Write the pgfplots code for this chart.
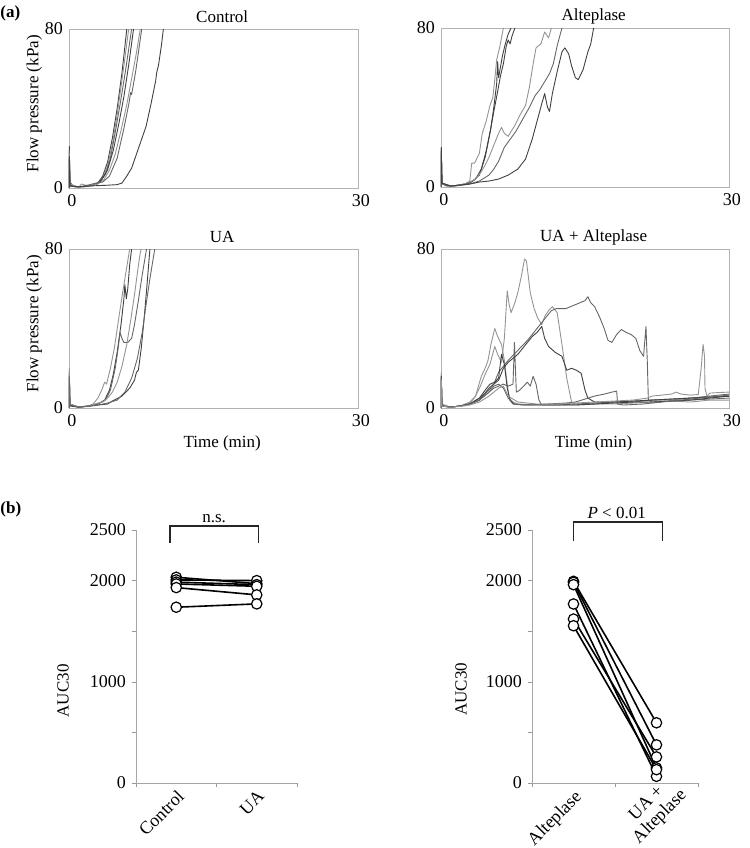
\documentclass[border=0pt]{standalone}
\usepackage{fontspec}
\setmainfont{Liberation Serif}
\usepackage{pgfplots}
\pgfplotsset{compat=1.18}

\pgfplotsset{
  tcplot/.style={
    scale only axis, height=79.5pt,
    xmin=0, xmax=30, ymin=0, ymax=80,
    xtick={0,30}, ytick={0,80},
    major tick length=0pt,
    axis line style={black!30},
    /pgf/number format/assume math mode=true,
    tick label style={font=\fontsize{9}{10}\selectfont},
    xticklabel style={xshift=1.5pt},
    every axis title shift=0pt,
    title style={at={(axis description cs:0.53,1.075)}, anchor=center},
    ylabel style={at={(axis description cs:-0.12,0.53)}, anchor=center},
    xlabel style={at={(axis description cs:0.53,-0.22)}, anchor=center},
    every axis plot/.append style={line width=0.45pt, black!60, line join=round},
  },
  lt/.style={black!42},
  dk/.style={black!75},
  aucplot/.style={
    scale only axis, height=126.5pt,
    xmin=0.5, xmax=2.5, ymin=0, ymax=2500,
    axis lines=left, axis line style={-, black!35},
    tick style={black!40}, tick align=outside, major tick length=2pt,
    ytick={0,500,...,2500}, yticklabels={0,,1000,,2000,2500},
    xtick={0.5,1.5,2.5}, xticklabels={},
    extra x tick style={major tick length=0pt},
    xticklabel style={rotate=45, anchor=north east, align=center, inner sep=2pt},
    tick label style={font=\fontsize{9}{10}\selectfont},
    clip=false,
    ylabel={AUC30},
    every axis plot/.append style={black, line width=0.8pt, mark=*, mark size=2.6pt,
      mark options={fill=white, draw=black, line width=0.6pt}},
  },
}

\begin{document}
\fontsize{8.5}{10}\selectfont
\begin{tikzpicture}
\path[use as bounding box] (0,0) rectangle (375pt,-424pt);

\node[anchor=west, inner sep=0pt] at (0pt,-6.5pt) {\textbf{(a)}};
\node[anchor=west, inner sep=0pt] at (0pt,-254.5pt) {\textbf{(b)}};

% ---- Control ----
\begin{axis}[tcplot, at={(34.5pt,-94pt)}, anchor=south west, width=144.5pt,
  title={Control}, ylabel={Flow pressure (kPa)}]
\addplot[dk] coordinates {(0,0)(0.03,21)(0.1,3)(0.4,1)(1,0.6)(2,0.8)(2.6,1.5)(3,2.6)(3.5,6)(4,13)(4.5,25)(5,40)(5.5,58)(6,80)};
\addplot[lt] coordinates {(0,0)(0.03,18)(0.12,2)(0.5,0.8)(1.5,0.6)(2.5,1.2)(3,2.2)(3.5,5)(4,11)(4.5,22)(5,37)(5.6,58)(6.2,80)};
\addplot[] coordinates {(0,0)(0.03,19)(0.1,2)(0.6,0.5)(1.5,0.7)(2.5,1.5)(3.2,3)(3.8,7)(4.3,15)(4.8,28)(5.3,42)(5.9,60)(6.5,80)};
\addplot[dk] coordinates {(0,0)(0.02,15)(0.1,1.5)(1,0.5)(2,1)(2.8,1.8)(3.3,3.5)(4,9)(4.6,19)(5.2,33)(5.7,46)(6.2,62)(6.7,80)};
\addplot[lt] coordinates {(0,0)(0.03,17)(0.1,2)(1,0.4)(1.3,2)(2,1)(3,2)(3.6,4)(4.2,9)(4.8,17)(5.4,29)(6,42)(6.5,55)(7,68)(7.4,80)};
\addplot[] coordinates {(0,0)(0.03,14)(0.1,1)(1,0.5)(2,1.5)(2.8,2.5)(3.5,3)(4.2,6)(5,15)(5.7,30)(6.2,42)(6.4,48)(6.5,47)(6.9,58)(7.2,68)(7.55,80)};
\addplot[dk] coordinates {(0,0)(0.03,16)(0.1,1)(1,0.6)(2,1)(3,1.2)(4,1.4)(5,1.7)(5.5,2.5)(6,6)(6.5,10)(7,17)(7.5,24)(8,31)(8.5,42)(9,54)(9.1,58)(9.3,62)(9.6,72)(9.8,80)};
\end{axis}

% ---- Alteplase ----
\begin{axis}[tcplot, at={(220.5pt,-93.5pt)}, anchor=south west, width=144pt,
  title={Alteplase}]
\addplot[lt] coordinates {(0,0)(0.03,20)(0.1,2)(0.5,0.6)(1.5,0.5)(2.5,1.5)(3,3)(3.2,12)(3.5,12)(4,17)(4.3,27)(4.7,33)(5.1,41)(5.4,45)(5.6,54)(5.8,64)(6.1,70)(6.5,80)};
\addplot[dk] coordinates {(0,0)(0.03,18)(0.1,2)(0.6,0.5)(1.5,0.7)(2.5,1.5)(3.3,3)(4,6)(4.6,15)(5.1,27)(5.5,38)(5.9,48)(6.2,56)(6.5,62)(6.8,71)(7.0,74)(7.2,72)(7.4,76)(7.7,80)};
\addplot[dk] coordinates {(0,0)(0.03,20)(0.1,2)(1,0.5)(2,1)(3,2)(3.6,4)(4.2,9)(4.7,18)(5.2,30)(5.5,40)(5.8,52)(5.9,63)(6.0,55)(6.4,66)(6.7,72)(7.0,77)(7.3,80)};
\addplot[lt] coordinates {(0,0)(0.03,16)(0.1,1.5)(1,0.5)(2,1)(3,2.5)(3.6,4)(4.1,7)(4.6,11)(5,15)(5.5,21)(6,27)(6.3,30)(6.6,27)(7,25.5)(7.3,28)(7.7,31)(8.2,36)(8.8,41)(9.2,50)(9.6,62)(9.9,70)(10.4,72)(10.8,78)(11.2,75)(11.5,80)};
\addplot[] coordinates {(0,0)(0.03,17)(0.1,1.5)(1,0.4)(2,0.8)(3,1.5)(4,3)(5,6)(5.5,9)(6,13)(6.6,20)(7.2,24)(7.8,28)(8.5,34)(9.2,40)(9.8,46)(10.3,49)(10.8,53)(11.3,57)(11.7,62)(12.1,71)(12.6,80)};
\addplot[dk] coordinates {(0,0)(0.03,19)(0.1,2)(1,0.5)(2,1)(3,1.5)(4,2.5)(5,3)(6,4)(7,6)(8,9)(8.8,14)(9.5,24)(10,33)(10.5,42)(10.8,47)(11.1,40)(11.3,38)(11.6,47)(12.1,58)(12.6,68)(12.9,70)(13.3,67)(13.6,61)(14,55)(14.3,54)(14.8,59)(15.3,68)(15.6,72)(15.9,80)};
\end{axis}

% ---- UA ----
\begin{axis}[tcplot, at={(34.5pt,-204pt)}, anchor=south west, width=144.5pt,
  title={UA}, ylabel={Flow pressure (kPa)}, xlabel={Time (min)}]
\addplot[lt] coordinates {(0,0)(0.03,20)(0.1,2)(1,0.5)(2,1)(2.5,2)(3,5)(3.4,9)(3.7,13)(3.9,12)(4.3,20)(4.7,30)(5.1,43)(5.5,56)(5.9,68)(6.3,80)};
\addplot[dk] coordinates {(0,0)(0.03,17)(0.1,1.5)(1,0.4)(2,1)(3,2)(3.7,4)(4.2,9)(4.6,17)(5,28)(5.4,42)(5.7,55)(5.8,62)(5.95,55)(6.1,60)(6.3,72)(6.5,80)};
\addplot[] coordinates {(0,0)(0.03,18)(0.1,2)(1,0.4)(2,1)(3,2)(3.8,4)(4.3,9)(4.8,20)(5.1,30)(5.3,38)(5.5,35)(5.7,33)(6.1,33)(6.5,35)(6.8,42)(7.2,54)(7.6,67)(8.05,80)};
\addplot[dk] coordinates {(0,0)(0.03,15)(0.1,1)(1,0.4)(2,0.8)(3,1.5)(4,2)(4.5,3.5)(5.5,6)(6.3,10)(6.8,14)(7.0,18)(7.2,19)(7.5,30)(7.8,45)(8.1,62)(8.4,80)};
\addplot[lt] coordinates {(0,0)(0.03,19)(0.1,2)(1,0.5)(2,1)(3,2.5)(3.5,3)(4,5)(4.5,8)(5,13)(5.5,21)(6,32)(6.4,44)(6.8,57)(7.1,68)(7.3,75)(7.4,78)(7.5,80)};
\addplot[] coordinates {(0,0)(0.03,16)(0.1,1.5)(1,0.5)(2,1)(3,1.5)(4,2.5)(5,4)(5.8,8)(6.5,15)(7.1,25)(7.6,38)(8.0,52)(8.4,65)(8.9,80)};
\end{axis}

% ---- UA + Alteplase ----
\begin{axis}[tcplot, at={(220.5pt,-204pt)}, anchor=south west, width=144pt,
  title={UA + Alteplase}, xlabel={Time (min)}]
\addplot[lt] coordinates {(0,0)(0.03,18)(0.1,2)(1,0.5)(2,1)(3,2.5)(3.3,4)(3.6,6)(4.1,11)(4.6,17)(5.1,22)(5.6,31)(5.9,27)(6.3,23)(6.6,35)(6.9,59)(7.1,52)(7.3,48)(7.7,53)(8,58)(8.4,67)(8.7,75)(8.9,74)(9.3,58)(9.7,50)(10.1,45)(10.5,42)(10.8,46)(11.2,49)(11.6,51)(12.1,48)(12.6,32)(13.1,15)(13.6,3)(14,2)(16,2)(18,3)(20,3.5)(22,4)(24,4)(26,5)(28,5.5)(30,6)};
\addplot[] coordinates {(0,0)(0.03,15)(0.1,1)(1,0.5)(2,1)(3,2)(4,5)(5,9)(5.5,12)(6,18)(7,24)(8,29)(9,34)(10,40)(10.5,43)(11,46)(11.5,49)(12,50)(13,50)(14,52)(15,54)(15.3,56)(15.6,53)(16,51)(16.5,46)(17,40)(17.4,34)(17.8,33)(18.3,37)(18.8,39.5)(19.3,38)(19.8,37)(20.3,35)(20.7,29)(21.1,26)(21.35,41)(21.5,22)(21.6,4)(22,3)(24,3.5)(26,4)(28,4.5)(30,5)};
\addplot[lt] coordinates {(0,0)(0.03,17)(0.1,1.5)(1,0.4)(2,1)(3,3)(3.6,6)(4.2,16)(4.6,20)(4.9,24)(5.2,32)(5.6,40)(5.9,36)(6.3,32)(6.6,24)(6.9,12)(7.1,5)(7.5,3)(8,2)(10,1.5)(12,1.5)(14,1.5)(16,2)(18,2)(20,2.5)(22,3)(24,3.5)(26,3)(28,4)(30,4)};
\addplot[] coordinates {(0,0)(0.03,14)(0.1,1)(1,0.4)(2,1)(3,2)(4,4)(5,8)(5.5,10)(6,11)(6.5,12)(7,11)(7.5,12)(7.65,33)(7.75,20)(7.85,8)(8.2,9)(8.6,11)(9,13)(9.3,11)(9.6,16)(9.9,12)(10.2,4)(10.5,1.5)(12,1.5)(14,2)(16,2.5)(18,3)(20,3)(22,4)(24,4.5)(26,5)(28,6)(30,7)};
\addplot[dk] coordinates {(0,0)(0.03,16)(0.1,1)(1,0.5)(2,1)(3,2)(4,4)(5,10)(5.5,12)(6,14)(6.5,20)(7,23)(7.5,25)(8,27)(8.5,30)(9,33)(9.5,36)(10,38)(10.5,41)(10.8,35)(11.2,31)(11.9,28)(12.6,26)(13.1,19)(13.6,20)(14.1,19)(14.6,17.5)(15,9)(15.3,5)(16,3)(18,3)(20,3.5)(22,4)(24,4.5)(26,5)(28,5.5)(30,6)};
\addplot[dk] coordinates {(0,0)(0.03,16)(0.1,1)(1,0.5)(2,1)(3,2)(4,5)(4.6,9)(5.1,12)(5.6,13)(6,15)(6.3,27)(6.6,22)(6.9,10)(7.2,4)(7.6,2)(8.5,1.5)(10,1.5)(12,1.5)(14,1.5)(16,2)(18,2.5)(20,3)(22,3)(24,3.5)(26,4)(28,5)(30,6)};
\addplot[] coordinates {(0,0)(0.03,15)(0.1,1)(1,0.4)(2,1)(3,2)(4,4)(5,8)(5.5,11)(6,12)(6.5,10)(7,5)(7.5,2)(9,1.5)(11,2)(13,2.5)(14,3)(15,4.5)(16,6)(17,7)(17.8,8)(18.3,8.5)(18.4,2)(19,1.5)(21,2)(23,3)(25,4)(27,5)(29,6)(30,6.5)};
\addplot[lt] coordinates {(0,0)(0.03,14)(0.1,1)(1,0.4)(2,0.8)(3,1.5)(4,3)(5,6)(6,10)(6.5,11)(7,6)(8,3)(10,2)(12,2)(14,2.5)(16,3)(18,3.5)(20,4)(21.5,5)(22,6)(23,6.5)(24,7)(24.5,8)(25,7)(26,6.5)(26.8,6.8)(27.1,20)(27.3,32)(27.45,26)(27.5,10)(27.7,6)(28,7.5)(29,7.8)(30,8)};
\end{axis}

% ---- AUC30: Control vs UA ----
\begin{axis}[aucplot, at={(68pt,-391.5pt)}, anchor=south west, width=80.5pt,
  ylabel style={at={(axis description cs:-0.453,0.364)}, anchor=center},
  extra x ticks={1,2}, extra x tick labels={Control,UA}]
\addplot[] coordinates {(1,2033)(2,1970)};
\addplot[] coordinates {(1,2007)(2,2000)};
\addplot[] coordinates {(1,1985)(2,1960)};
\addplot[] coordinates {(1,1967)(2,1944)};
\addplot[] coordinates {(1,1931)(2,1859)};
\addplot[] coordinates {(1,1737)(2,1770)};
\draw[black!85, line width=0.75pt] (axis cs:0.92,2372) -- (axis cs:0.92,2540) -- (axis cs:2.02,2540) -- (axis cs:2.02,2372);
\node[anchor=south, inner sep=1.5pt] at (axis cs:1.47,2540) {n.s.};
\end{axis}

% ---- AUC30: Alteplase vs UA + Alteplase ----
\begin{axis}[aucplot, at={(266pt,-391.5pt)}, anchor=south west, width=83pt,
  ylabel style={at={(axis description cs:-0.428,0.37)}, anchor=center},
  extra x ticks={1,2}, extra x tick labels={Alteplase,{}}]
\addplot[] coordinates {(1,1993)(2,595)};
\addplot[] coordinates {(1,1983)(2,377)};
\addplot[] coordinates {(1,1960)(2,149)};
\addplot[] coordinates {(1,1769)(2,66)};
\addplot[] coordinates {(1,1620)(2,258)};
\addplot[] coordinates {(1,1554)(2,132)};
\draw[black!85, line width=0.75pt] (axis cs:1.0,2391) -- (axis cs:1.0,2579) -- (axis cs:2.07,2579) -- (axis cs:2.07,2391);
\node[anchor=south, inner sep=1.5pt] at (axis cs:1.52,2579) {\textit{P} < 0.01};
\node[rotate=45, anchor=north east, align=center, inner sep=2pt,
  font=\fontsize{9}{9.5}\selectfont] at ([xshift=4.4pt,yshift=7.5pt]axis cs:2,0) {UA +\\Alteplase};
\end{axis}
\end{tikzpicture}
\end{document}
